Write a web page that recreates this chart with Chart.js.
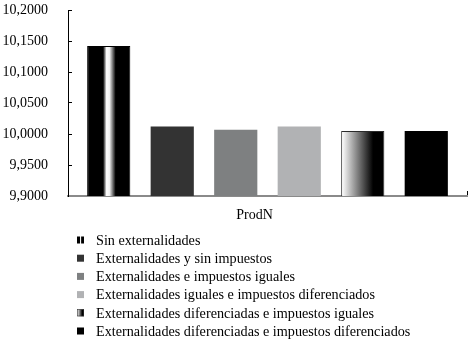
<!DOCTYPE html>
<html>
<head>
<meta charset="utf-8">
<script src="https://cdn.jsdelivr.net/npm/chart.js@4/dist/chart.umd.min.js"></script>
<style>
html,body{margin:0;padding:0;background:#fff;}
#wrap{width:472px;height:342px;position:relative;}
</style>
</head>
<body>
<div id="wrap"><canvas id="c" width="472" height="342"></canvas></div>
<script>
// ---- data ----
const categories = ['ProdN'];
const seriesNames = [
  'Sin externalidades',
  'Externalidades y sin impuestos',
  'Externalidades e impuestos iguales',
  'Externalidades iguales e impuestos diferenciados',
  'Externalidades diferenciadas e impuestos iguales',
  'Externalidades diferenciadas e impuestos diferenciados'
];
const seriesValues = [10.142, 10.012, 10.007, 10.012, 10.005, 10.005];
const yTickMin = 9.9, yTickMax = 10.2, yTickStep = 0.05;

// ---- styles ----
const FONT = '"Liberation Serif", "Times New Roman", serif';
const solidColors = ['#000000', '#333333', '#7e8081', '#b1b2b4', '#ffffff', '#000000'];
const gradStops = {
  0: [[0, '#000'], [0.37, '#000'], [0.45, '#fff'], [0.52, '#f0f0f0'], [0.66, '#000'], [1, '#000']],
  4: [[0, '#fcfcfc'], [0.05, '#f4f4f4'], [0.74, '#000'], [1, '#000']]
};
function makeGrad(ctx, i, x0, x1) {
  const g = ctx.createLinearGradient(x0, 0, x1, 0);
  gradStops[i].forEach(s => g.addColorStop(s[0], s[1]));
  return g;
}
function fillFor(i) {
  return (c) => {
    if (!gradStops[i]) return solidColors[i];
    const el = c.element;
    if (!el || el.x === undefined || !isFinite(el.x) || !el.width) return solidColors[i];
    return makeGrad(c.chart.ctx, i, el.x - el.width / 2, el.x + el.width / 2);
  };
}

Chart.defaults.font.family = FONT;
Chart.defaults.font.size = 14;
Chart.defaults.color = '#000';

const legendPlugin = {
  id: 'customLegend',
  afterDraw(chart) {
    const ctx = chart.ctx;
    ctx.save();
    ctx.font = '14.2px ' + FONT;
    ctx.textBaseline = 'middle';
    ctx.textAlign = 'left';
    seriesNames.forEach((name, i) => {
      const cy = 240.5 + i * 18.2;
      const bx = 77, by = cy - 4, bw = 7, bh = 7;
      ctx.fillStyle = gradStops[i] ? makeGrad(ctx, i, bx, bx + bw) : solidColors[i];
      ctx.fillRect(bx, by, bw, bh);
      if (i === 4) { ctx.strokeStyle = '#333'; ctx.lineWidth = 0.6; ctx.strokeRect(bx + 0.3, by + 0.3, bw - 0.6, bh - 0.6); }
      ctx.fillStyle = '#000';
      ctx.fillText(name, 96, cy + 0.5);
    });
    ctx.restore();
  }
};

const datasets = seriesNames.map((name, i) => ({
  label: name,
  data: [seriesValues[i]],
  backgroundColor: fillFor(i),
  borderColor: i === 4 ? '#2a2a2a' : '#000',
  borderWidth: (i === 4 || i === 0) ? 1 : 0,
  borderSkipped: 'start',
  categoryPercentage: 0.955,
  barPercentage: 0.68
}));

const chart = new Chart(document.getElementById('c'), {
  type: 'bar',
  data: { labels: categories, datasets },
  options: {
    responsive: false,
    animation: false,
    layout: { padding: { left: 0, right: 5, top: 10, bottom: 118 } },
    plugins: { legend: { display: false }, tooltip: { enabled: false } },
    scales: {
      x: {
        grid: { drawOnChartArea: false, drawTicks: true, tickLength: -5, color: '#000', lineWidth: 1 },
        border: { display: true, color: '#8a8a8a', width: 2 },
        ticks: { padding: 16, labelOffset: -13, font: { size: 14, family: FONT }, color: '#000' },
        afterFit: s => { s.height = 28; s.paddingLeft = 0; s.paddingRight = 0; }
      },
      y: {
        min: yTickMin, max: yTickMax,
        grid: { drawOnChartArea: false, drawTicks: true, tickLength: -4, color: '#000', lineWidth: 1 },
        border: { display: true, color: '#000', width: 1 },
        ticks: {
          stepSize: yTickStep,
          padding: 24,
          font: { size: 14, family: FONT },
          color: '#000',
          callback: v => Number(v).toFixed(4).replace('.', ',')
        },
        afterFit: s => { s.width = 68; s.paddingTop = 0; s.paddingBottom = 0; }
      }
    }
  },
  plugins: [legendPlugin]
});
chart.update();
</script>
</body>
</html>
